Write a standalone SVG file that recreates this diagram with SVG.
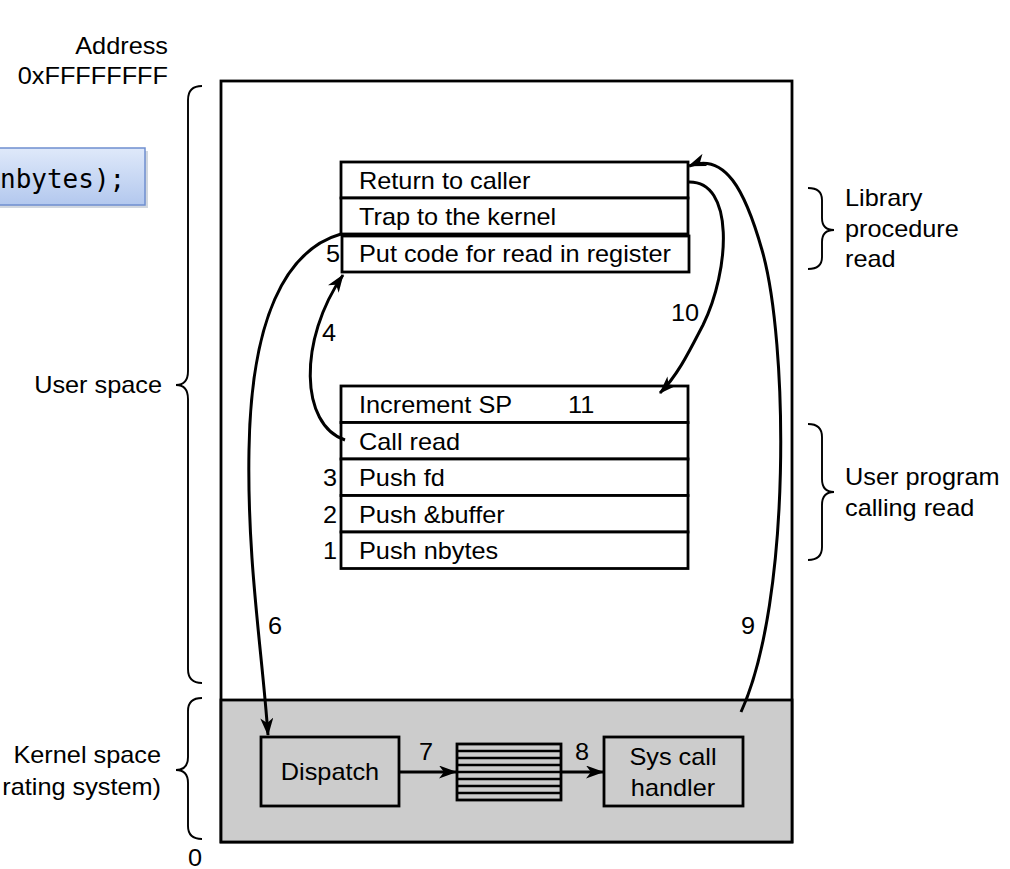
<svg xmlns="http://www.w3.org/2000/svg" width="1010" height="869" viewBox="0 0 1010 869">
<style>
text{font-family:"Liberation Sans",Arial,sans-serif;font-size:23px;fill:#000}
.box{fill:#fff;stroke:#000;stroke-width:2.8}
.kbox{fill:#ccc;stroke:#000;stroke-width:2.8}
.brace{fill:none;stroke:#000;stroke-width:1.9}
.arr{fill:none;stroke:#000;stroke-width:3;marker-end:url(#ah)}
.end{text-anchor:end}
.mid{text-anchor:middle}
</style>
<defs>
<marker id="ah" markerUnits="userSpaceOnUse" markerWidth="18" markerHeight="13" refX="17" refY="6.5" orient="auto" viewBox="0 0 18 13">
<path d="M0,0 L18,6.5 L0,13 L5,6.5 z" fill="#000"/>
</marker>
<linearGradient id="cg" x1="0" y1="0" x2="0" y2="1">
<stop offset="0" stop-color="#dfe9fa"/>
<stop offset="1" stop-color="#b3c8ee"/>
</linearGradient>
</defs>
<rect width="1010" height="869" fill="#fff"/>

<g id="code">
<rect x="-10" y="151" width="158" height="57" fill="#9aa6b8" opacity="0.45"/>
<rect x="-12" y="148" width="157" height="57" fill="url(#cg)" stroke="#6f8fd0" stroke-width="1.5"/>
<text x="0" y="188" style="font-family:'DejaVu Sans Mono','Liberation Mono',monospace;font-size:26px">nbytes);</text>
</g>

<g id="address-labels">
<text class="end" transform="matrix(1.1 0 0 1 168 54)">Address</text>
<text class="end" transform="matrix(1.1 0 0 1 168 84)">0xFFFFFFFF</text>
<text class="end" transform="matrix(1.1 0 0 1 162 393)">User space</text>
<text class="end" transform="matrix(1.1 0 0 1 161 763)">Kernel space</text>
<text class="end" transform="matrix(1.1 0 0 1 161 795)">rating system)</text>
<text class="mid" transform="matrix(1.1 0 0 1 195 866)">0</text>
</g>

<g id="braces">
<path class="brace" d="M202,86 Q188,86 188,100 L188,371 Q188,385 176,385 Q188,385 188,399 L188,669 Q188,683 202,683"/>
<path class="brace" d="M202,698 Q188,698 188,711 L188,757 Q188,770 176,770 Q188,770 188,783 L188,826 Q188,839 202,839"/>
<path class="brace" d="M808,188 Q822,188 822,200 L822,218 Q822,230 834,230 Q822,230 822,242 L822,257 Q822,269 808,269"/>
<path class="brace" d="M808,424 Q822,424 822,437 L822,479 Q822,492 834,492 Q822,492 822,505 L822,547 Q822,560 808,560"/>
</g>

<g id="memory">
<rect x="221" y="81" width="571" height="761" fill="#fff" stroke="#000" stroke-width="2.8"/>
<rect x="221" y="700" width="571" height="142" class="kbox"/>
</g>

<g id="library">
<rect class="box" x="341" y="162" width="347" height="36"/>
<rect class="box" x="341" y="198" width="347" height="36"/>
<rect class="box" x="342" y="236" width="347" height="36"/>
<text transform="matrix(1.1 0 0 1 359 189)">Return to caller</text>
<text transform="matrix(1.1 0 0 1 359 225)">Trap to the kernel</text>
<text transform="matrix(1.1 0 0 1 359 262)">Put code for read in register</text>
</g>
<g id="library-label">
<text transform="matrix(1.1 0 0 1 845 206)">Library</text>
<text transform="matrix(1.1 0 0 1 845 237)">procedure</text>
<text transform="matrix(1.1 0 0 1 845 267)">read</text>
</g>

<g id="userprog">
<rect class="box" x="341" y="386" width="347" height="36.5"/>
<rect class="box" x="341" y="422.5" width="347" height="36.5"/>
<rect class="box" x="341" y="459" width="347" height="36.5"/>
<rect class="box" x="341" y="495.5" width="347" height="36.5"/>
<rect class="box" x="341" y="532" width="347" height="36.5"/>
<text transform="matrix(1.1 0 0 1 359 413)">Increment SP</text>
<text transform="matrix(1.1 0 0 1 359 450)">Call read</text>
<text transform="matrix(1.1 0 0 1 359 486)">Push fd</text>
<text transform="matrix(1.1 0 0 1 359 523)">Push &amp;buffer</text>
<text transform="matrix(1.1 0 0 1 359 559)">Push nbytes</text>
</g>
<g id="userprog-label">
<text transform="matrix(1.1 0 0 1 845 485)">User program</text>
<text transform="matrix(1.1 0 0 1 845 516)">calling read</text>
</g>

<g id="dispatch">
<rect class="kbox" x="261" y="737" width="138" height="69"/>
<text class="mid" transform="matrix(1.1 0 0 1 330 780)">Dispatch</text>
</g>
<g id="table">
<rect class="kbox" x="457" y="744" width="104" height="56"/>
<path d="M457,751H561M457,758H561M457,765H561M457,772H561M457,779H561M457,786H561M457,793H561" stroke="#000" stroke-width="2.3"/>
</g>
<g id="handler">
<rect class="kbox" x="604" y="737" width="139" height="69"/>
<text class="mid" transform="matrix(1.1 0 0 1 673 765)">Sys call</text>
<text class="mid" transform="matrix(1.1 0 0 1 673 796)">handler</text>
</g>

<g id="connectors">
<path class="arr" d="M345,440 C300,425 298,340 343,275"/>
<path class="arr" d="M341,234 C285,250 251,320 249,450 C247,560 262,650 268,735"/>
<path class="arr" d="M399,772 L456,772"/>
<path class="arr" d="M561,772 L603,772"/>
<path class="arr" d="M741,712 C792,600 788,340 762,250 C745,190 725,152 689,166"/>
<path class="arr" d="M688,182 C735,180 730,270 703,325 C690,350 678,375 660,393"/>
</g>

<g id="step-labels">
<text class="end" transform="matrix(1.1 0 0 1 340 262)">5</text>
<text class="mid" transform="matrix(1.1 0 0 1 329 341)">4</text>
<text transform="matrix(1.1 0 0 1 671 321)">10</text>
<text transform="matrix(1.1 0 0 1 568 413)">11</text>
<text class="end" transform="matrix(1.1 0 0 1 337 486)">3</text>
<text class="end" transform="matrix(1.1 0 0 1 337 523)">2</text>
<text class="end" transform="matrix(1.1 0 0 1 337 559)">1</text>
<text transform="matrix(1.1 0 0 1 268 634)">6</text>
<text transform="matrix(1.1 0 0 1 741 634)">9</text>
<text class="mid" transform="matrix(1.1 0 0 1 426 760)">7</text>
<text class="mid" transform="matrix(1.1 0 0 1 582 760)">8</text>
</g>
</svg>
